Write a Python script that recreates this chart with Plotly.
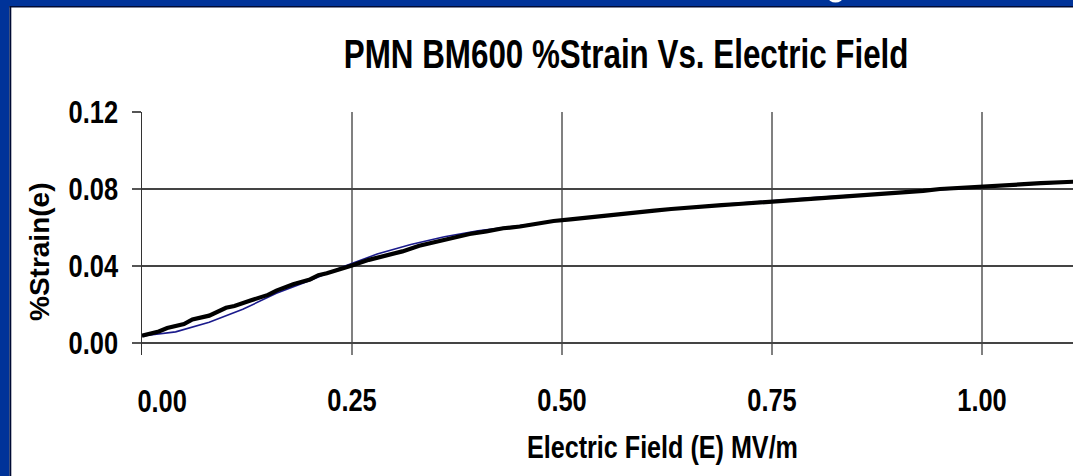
import json
import plotly.graph_objects as go

# ---- data ----
field_measured = [0.00, 0.02, 0.03, 0.05, 0.06, 0.08, 0.10, 0.11, 0.13, 0.15, 0.16, 0.18, 0.20, 0.21,
                  0.22, 0.24, 0.25, 0.27, 0.29, 0.31, 0.33, 0.35, 0.37, 0.39, 0.41, 0.43, 0.45, 0.47,
                  0.49, 0.51, 0.53, 0.55, 0.57, 0.59, 0.61, 0.63, 0.65, 0.67, 0.69, 0.71, 0.73, 0.75,
                  0.77, 0.79, 0.81, 0.83, 0.85, 0.87, 0.89, 0.91, 0.93, 0.95, 0.97, 0.99, 1.01, 1.03,
                  1.05, 1.07, 1.09, 1.11]
strain_measured = [0.0038, 0.0060, 0.0078, 0.0098, 0.0122, 0.0142, 0.0183, 0.0192, 0.0222, 0.0250,
                   0.0272, 0.0305, 0.0330, 0.0352, 0.0362, 0.0393, 0.0403, 0.0432, 0.0455, 0.0476,
                   0.0505, 0.0526, 0.0545, 0.0566, 0.0580, 0.0596, 0.0605, 0.0620, 0.0634, 0.0642,
                   0.0652, 0.0662, 0.0672, 0.0680, 0.0688, 0.0696, 0.0704, 0.0710, 0.0716, 0.0722,
                   0.0728, 0.0736, 0.0740, 0.0745, 0.0752, 0.0757, 0.0762, 0.0770, 0.0775, 0.0782,
                   0.0790, 0.0800, 0.0806, 0.0810, 0.0814, 0.0820, 0.0825, 0.0830, 0.0836, 0.0838]

field_fit = [0.00, 0.04, 0.08, 0.12, 0.16, 0.20, 0.24, 0.28, 0.32, 0.36, 0.40, 0.45, 0.50, 0.55,
             0.60, 0.65, 0.70, 0.75, 0.80, 0.85, 0.90, 0.95, 1.00, 1.05, 1.11]
strain_fit = [0.0036, 0.0058, 0.0108, 0.0175, 0.0258, 0.0325, 0.0398, 0.0462, 0.0512, 0.0552,
              0.0583, 0.0612, 0.0638, 0.0662, 0.0684, 0.0705, 0.0723, 0.0740, 0.0755, 0.0769,
              0.0783, 0.0798, 0.0810, 0.0822, 0.0836]

x_tick_values = [0.0, 0.25, 0.5, 0.75, 1.0]
y_tick_values = [0.0, 0.04, 0.08, 0.12]

chart_title = "PMN BM600 %Strain Vs. Electric Field"
x_title = "Electric Field (E) MV/m"
y_title = "%Strain(e)"

# ---- layout geometry (pixels) ----
W, H = 1080, 476
L, R, T, B = 142, 1073, 112, 355


def fx(px):
    return (px - L) / (R - L)


def fy(py):
    return (B - py) / (B - T)


FONT = "Liberation Sans, Arial, sans-serif"
BLUE = "#003399"
DARK = "#000a33"

fig = go.Figure()
fig.add_trace(go.Scatter(x=field_fit, y=strain_fit, mode="lines",
                         line=dict(color="#1a1a8c", width=1.6), showlegend=False,
                         hoverinfo="skip"))
fig.add_trace(go.Scatter(x=field_measured, y=strain_measured, mode="lines",
                         line=dict(color="black", width=4.2), showlegend=False,
                         hoverinfo="skip"))

fig.update_layout(
    width=W, height=H,
    margin=dict(l=L, r=W - R, t=T, b=H - B, pad=0),
    paper_bgcolor="white", plot_bgcolor="white",
    showlegend=False,
    font=dict(family=FONT, color="black"),
    xaxis=dict(range=[0, (R - L) / 840],
               tickvals=x_tick_values[1:], ticktext=["%.2f" % v for v in x_tick_values[1:]],
               showgrid=True, gridcolor="#808080", gridwidth=1.6,
               zeroline=False, showline=False, ticks="",
               ticklabelstandoff=23, automargin=False,
               tickfont=dict(family=FONT, size=32, color="black", weight="bold")),
    yaxis=dict(range=[-12 / 1925, 0.12],
               tickvals=y_tick_values, ticktext=["%.2f" % v for v in y_tick_values],
               showgrid=True, gridcolor="#444444", gridwidth=1.1,
               zeroline=False, showline=True, linecolor="#333333", linewidth=1.5,
               ticks="outside", ticklen=9, tickcolor="#555555", tickwidth=1.2,
               ticklabelstandoff=7, automargin=False,
               tickfont=dict(family=FONT, size=32, color="black", weight="bold")),
)

annotations = [
    dict(text="<b>%s</b>" % chart_title, x=fx(626), y=fy(54), xref="paper", yref="paper",
         showarrow=False, xanchor="center", yanchor="middle",
         font=dict(family=FONT, size=41, color="black")),
    dict(text="<b>%s</b>" % x_title, x=fx(662), y=fy(447), xref="paper", yref="paper",
         showarrow=False, xanchor="center", yanchor="middle",
         font=dict(family=FONT, size=32, color="black")),
    dict(text="<b>%s</b>" % y_title, x=fx(39), y=fy(252), xref="paper", yref="paper",
         showarrow=False, xanchor="center", yanchor="middle", textangle=-90,
         font=dict(family=FONT, size=28, color="black")),
    # first x label sits a little right of its gridline in the original
    dict(text="<b>%.2f</b>" % x_tick_values[0], x=fx(162), y=fy(401), xref="paper", yref="paper",
         showarrow=False, xanchor="center", yanchor="middle",
         font=dict(family=FONT, size=32, color="black")),
]
fig.update_layout(annotations=annotations)

shapes = [
    # slide frame: left and top blue bands with dark inner edges
    dict(type="rect", xref="paper", yref="paper", x0=fx(0), x1=fx(9.5), y0=fy(H), y1=fy(0),
         fillcolor=BLUE, line=dict(width=0), layer="above"),
    dict(type="rect", xref="paper", yref="paper", x0=fx(9.5), x1=fx(11.3), y0=fy(H), y1=fy(6),
         fillcolor=DARK, line=dict(width=0), layer="above"),
    dict(type="rect", xref="paper", yref="paper", x0=fx(0), x1=fx(R), y0=fy(6), y1=fy(0),
         fillcolor=BLUE, line=dict(width=0), layer="above"),
    dict(type="rect", xref="paper", yref="paper", x0=fx(9.5), x1=fx(R), y0=fy(7.4), y1=fy(6),
         fillcolor=DARK, line=dict(width=0), layer="above"),
    # tail of the white slide-title letter peeking through the band
    dict(type="circle", xref="paper", yref="paper", x0=fx(828), x1=fx(843), y0=fy(2.6), y1=fy(-9),
         fillcolor="white", line=dict(width=0), layer="above"),
]
fig.update_layout(shapes=shapes)

# horizontal squeeze of the bold text to mimic the narrow (condensed) face of the original
text_scales = {chart_title: 0.765, x_title: 0.786, y_title: 1.0}
default_scale = 0.795

post_script = (
    "document.body.style.margin='0';"
    "(function(){"
    "var gd=document.getElementById('{plot_id}');"
    "var S=" + json.dumps(text_scales) + ";var D=" + str(default_scale) + ";"
    "function sq(){"
    " gd.querySelectorAll('text').forEach(function(t){"
    "  var tr=t.getAttribute('transform')||'';"
    "  if(tr.indexOf('scale(')>=0) return;"
    "  var s=S.hasOwnProperty(t.textContent)?S[t.textContent]:D;"
    "  if(s===1||t.textContent==='') return;"
    "  var x=parseFloat(t.getAttribute('x')||'0');"
    "  t.setAttribute('transform',tr+' translate('+x+',0) scale('+s+',1) translate('+(-x)+',0)');"
    " });"
    "}"
    "sq();"
    "if(gd.on){gd.on('plotly_afterplot',sq);}"
    "setTimeout(sq,200);setTimeout(sq,800);"
    "})();"
)

fig.write_html("out.html", post_script=post_script,
               config={"displayModeBar": False, "staticPlot": True})
